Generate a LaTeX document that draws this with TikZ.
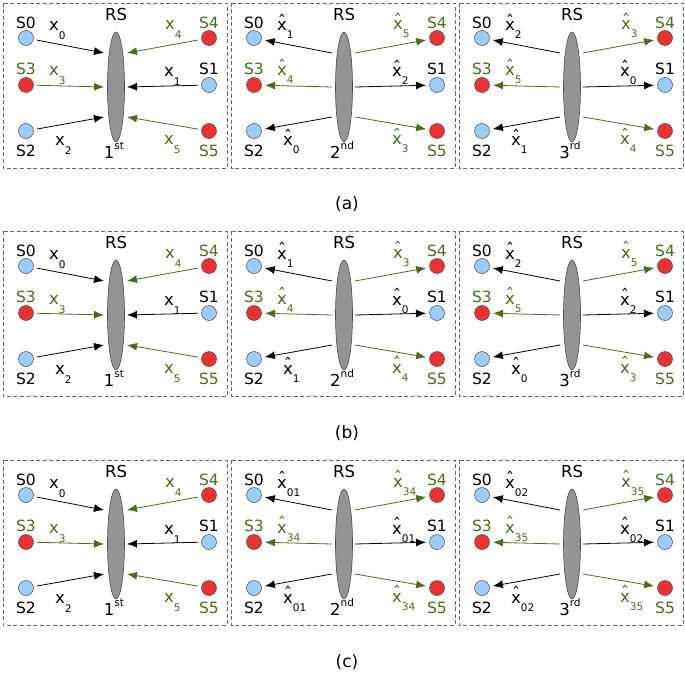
\documentclass[tikz,border=0pt]{standalone}
\usepackage{fontspec}
\setmainfont{DejaVu Sans}
\usepackage{xcolor}
\usepackage{tikz}
\usetikzlibrary{arrows.meta, shapes.geometric, positioning}

\definecolor{leafgreen}{RGB}{72,110,22}
\definecolor{nodeblue}{RGB}{153,204,255}
\definecolor{nodered}{RGB}{238,48,48}

\newcommand{\xs}[1]{x\rlap{\raisebox{-9pt}{\fontsize{10.5}{10}\selectfont #1}}}
\newcommand{\xh}[1]{\ooalign{x\cr\hidewidth\raisebox{3.5pt}{\char"02C6}\hidewidth\cr}\rlap{\raisebox{-8pt}{\fontsize{10.5}{10}\selectfont #1}}}
\newcommand{\ordi}[2]{#1\raisebox{9pt}{\fontsize{10.5}{10}\selectfont #2}}

\tikzset{
  txt/.style={font=\fontsize{15.5}{18}\selectfont, inner sep=0pt},
  lbl/.style={font=\fontsize{16.5}{18}\selectfont, inner sep=0pt, anchor=base},
  sta/.style={circle, draw=black!70, line width=0.5pt, minimum size=15pt, inner sep=0pt, outer sep=3.5pt},
  sblue/.style={sta, fill=nodeblue},
  sred/.style={sta, fill=nodered},
  relay/.style={ellipse, draw=black!70, fill=black!42, line width=0.6pt, minimum width=17pt, minimum height=110pt, inner sep=0pt},
  panel/.style={draw=black!60, dash pattern=on 4pt off 2.5pt, line width=0.6pt},
  link/.style={line width=0.8pt},
  inward/.style={->},
  outward/.style={<-},
}

\begin{document}
\begin{tikzpicture}[x=1pt, y=-1pt, >={Latex[length=10pt,width=8pt]}]
    \useasboundingbox (0,0) rectangle (685,674);
    % nine panels: corner, order, direction, labels at S0 S3 S2 S4 S1 S5
    \foreach \px/\py/\ord/\dr/\la/\lb/\lc/\ld/\le/\lf [count=\n] in {
        3/3/{\ordi{1}{st}}/inward/{\xs{0}}/{\xs{3}}/{\xs{2}}/{\xs{4}}/{\xs{1}}/{\xs{5}},
        231/3/{\ordi{2}{nd}}/outward/{\xh{1}}/{\xh{4}}/{\xh{0}}/{\xh{5}}/{\xh{2}}/{\xh{3}},
        459/3/{\ordi{3}{rd}}/outward/{\xh{2}}/{\xh{5}}/{\xh{1}}/{\xh{3}}/{\xh{0}}/{\xh{4}},
        3/231/{\ordi{1}{st}}/inward/{\xs{0}}/{\xs{3}}/{\xs{2}}/{\xs{4}}/{\xs{1}}/{\xs{5}},
        231/231/{\ordi{2}{nd}}/outward/{\xh{1}}/{\xh{4}}/{\xh{1}}/{\xh{3}}/{\xh{0}}/{\xh{4}},
        459/231/{\ordi{3}{rd}}/outward/{\xh{2}}/{\xh{5}}/{\xh{0}}/{\xh{5}}/{\xh{2}}/{\xh{3}},
        3/460/{\ordi{1}{st}}/inward/{\xs{0}}/{\xs{3}}/{\xs{2}}/{\xs{4}}/{\xs{1}}/{\xs{5}},
        231/460/{\ordi{2}{nd}}/outward/{\xh{01}}/{\xh{34}}/{\xh{01}}/{\xh{34}}/{\xh{01}}/{\xh{34}},
        459/460/{\ordi{3}{rd}}/outward/{\xh{02}}/{\xh{35}}/{\xh{02}}/{\xh{35}}/{\xh{02}}/{\xh{35}}}{
    \begin{scope}[shift={(\px,\py)}]
        \draw[panel] (0,0) rectangle (224,165);
        % relay
        \node[relay] (rs\n) at (113,84) {};
        \node[txt, font=\fontsize{16.5}{18}\selectfont] (rsl\n) at (113,11) {RS};
        \node[lbl] (ord\n) at (111,155) {\ord};
        % stations
        \node[sblue] (s0-\n) at (23,35) {};
        \node[sred] (s3-\n) at (23,82) {};
        \node[sblue] (s2-\n) at (23,128) {};
        \node[sred] (s4-\n) at (206,35) {};
        \node[sblue] (s1-\n) at (206,82) {};
        \node[sred] (s5-\n) at (206,128) {};
        \node[txt] (t0-\n) at (23,20) {S0};
        \node[txt, text=leafgreen] (t3-\n) at (23,66) {S3};
        \node[txt] (t2-\n) at (23,148) {S2};
        \node[txt, text=leafgreen] (t4-\n) at (206,20) {S4};
        \node[txt] (t1-\n) at (206,66) {S1};
        \node[txt, text=leafgreen] (t5-\n) at (206,148) {S5};
        % ends at the relay
        \coordinate (e0-\n) at (101,50);
        \coordinate (e3-\n) at (101,84);
        \coordinate (e2-\n) at (101,114);
        \coordinate (e4-\n) at (124,50);
        \coordinate (e1-\n) at (124,84);
        \coordinate (e5-\n) at (124,114);
        \draw[link, \dr] (s0-\n) -- (e0-\n);
        \draw[link, \dr, leafgreen] (s3-\n) -- (e3-\n);
        \draw[link, \dr] (s2-\n) -- (e2-\n);
        \draw[link, \dr, leafgreen] (s4-\n) -- (e4-\n);
        \draw[link, \dr] (s1-\n) -- (e1-\n);
        \draw[link, \dr, leafgreen] (s5-\n) -- (e5-\n);
        % symbols
        \node[lbl] (xa\n) at (51,28) {\la};
        \node[lbl, text=leafgreen] (xb\n) at (51,73) {\lb};
        \node[lbl] (xc\n) at (57,143) {\lc};
        \node[lbl, text=leafgreen] (xd\n) at (167,27) {\ld};
        \node[lbl] (xe\n) at (166,74) {\le};
        \node[lbl, text=leafgreen] (xf\n) at (166,142) {\lf};
    \end{scope}
    }
    \node[font=\fontsize{17}{20}\selectfont] (capa) at (347,204) {(a)};
    \node[font=\fontsize{17}{20}\selectfont] (capb) at (347,433) {(b)};
    \node[font=\fontsize{17}{20}\selectfont] (capc) at (347,662) {(c)};
\end{tikzpicture}
\end{document}
